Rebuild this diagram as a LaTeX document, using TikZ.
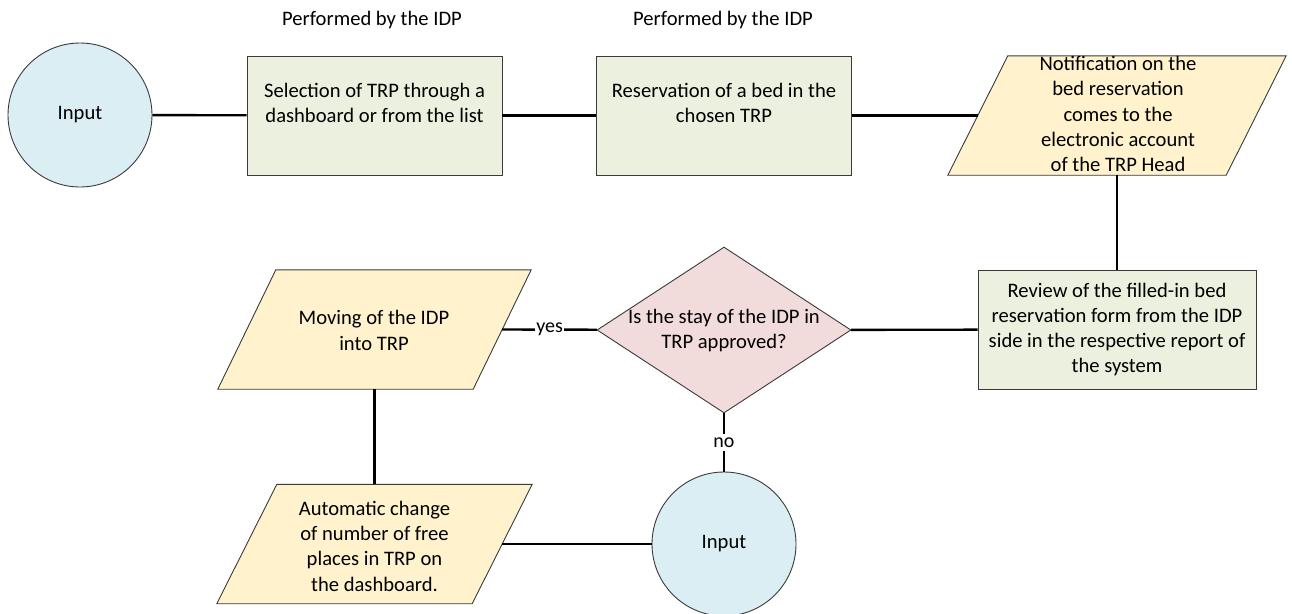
\documentclass[tikz,border=0pt]{standalone}
\usepackage{fontspec}
\setmainfont{Carlito}
\usetikzlibrary{shapes.geometric}
\definecolor{cblue}{HTML}{DAEEF3}
\definecolor{cgreen}{HTML}{EBF1DE}
\definecolor{cyellow}{HTML}{FFF2CC}
\definecolor{cpink}{HTML}{F2DCDB}
\definecolor{cedge}{HTML}{3A3A3A}
\begin{document}
\begin{tikzpicture}[x=1pt,y=-1pt,
  txt/.style={align=center,font=\fontsize{20.6}{25.3}\selectfont,inner sep=0pt},
  shp/.style={draw=cedge,line width=0.9pt},
  startnode/.style={shp,circle,fill=cblue,minimum size=144pt,inner sep=0pt,font=\fontsize{20.6}{25.3}\selectfont},
  proc/.style={shp,rectangle,fill=cgreen,minimum width=255pt,minimum height=119pt,inner sep=0pt,align=center,font=\fontsize{20.6}{25.3}\selectfont},
  iobody/.style={rectangle,minimum height=119pt,inner sep=0pt},
  iofill/.style={shp,fill=cyellow},
  decision/.style={shp,diamond,fill=cpink,minimum width=254pt,minimum height=166pt,inner sep=0pt},
  conn/.style={draw=black,line width=2.4pt},
  lbl/.style={fill=white,inner sep=1.5pt,font=\fontsize{20}{24}\selectfont}
]
\useasboundingbox (0,0) rectangle (1292,613);

% top row
\node[startnode] (in1) at (80,115) {Input};
\node[proc] (r1) at (374.5,115.5) {};
\node[txt] (r1t) at (374.5,103) {Selection of TRP through a\\dashboard or from the list};
\node[proc] (r2) at (724,115.5) {};
\node[txt] (r2t) at (724,103) {Reservation of a bed in the\\chosen TRP};
\node[txt] (h1) at (372,20) {Performed by the IDP};
\node[txt] (h2) at (723,20) {Performed by the IDP};

\node[iobody,minimum width=278pt] (notif) at (1117,115.5) {};
\draw[iofill] ([xshift=30pt]notif.north west) -- ([xshift=30pt]notif.north east)
  -- ([xshift=-30pt]notif.south east) -- ([xshift=-30pt]notif.south west) -- cycle;
\node[txt] (notift) at (1118,114) {Notification on the\\bed reservation\\comes to the\\electronic account\\of the TRP Head};

% middle row
\node[proc,minimum width=278pt] (rev) at (1117,329.5) {Review of the filled-in bed\\reservation form from the IDP\\side in the respective report of\\the system};
\node[decision] (dia) at (724,330) {};
\node[txt] (diat) at (724,330.5) {Is the stay of the IDP in\\TRP approved?};

\node[iobody,minimum width=255pt] (mov) at (374.5,329.5) {};
\draw[iofill] ([xshift=29pt]mov.north west) -- ([xshift=29pt]mov.north east)
  -- ([xshift=-29pt]mov.south east) -- ([xshift=-29pt]mov.south west) -- cycle;
\node[txt] (movt) at (374,330.5) {Moving of the IDP\\into TRP};

% bottom row
\node[iobody,minimum width=255pt] (auto) at (374.5,544) {};
\draw[iofill] ([xshift=30pt]auto.north west) -- ([xshift=30pt]auto.north east)
  -- ([xshift=-30pt]auto.south east) -- ([xshift=-30pt]auto.south west) -- cycle;
\node[txt] (autot) at (374.5,546) {Automatic change\\of number of free\\places in TRP on\\the dashboard.};
\node[startnode] (in2) at (724,544) {Input};

% connectors
\draw[conn] (in1) -- (r1);
\draw[conn] (r1) -- (r2);
\draw[conn] (r2) -- (notif.west);
\draw[conn] (notif.south) -- (rev.north);
\draw[conn] (rev) -- (dia);
\draw[conn] (dia) -- node[lbl] {yes} (mov.east);
\draw[conn] (dia.south) -- node[lbl,inner sep=4pt] {no} (in2.north);
\draw[conn] (mov.south) -- (auto.north);
\draw[conn] (auto.east) -- (in2);
\end{tikzpicture}
\end{document}
